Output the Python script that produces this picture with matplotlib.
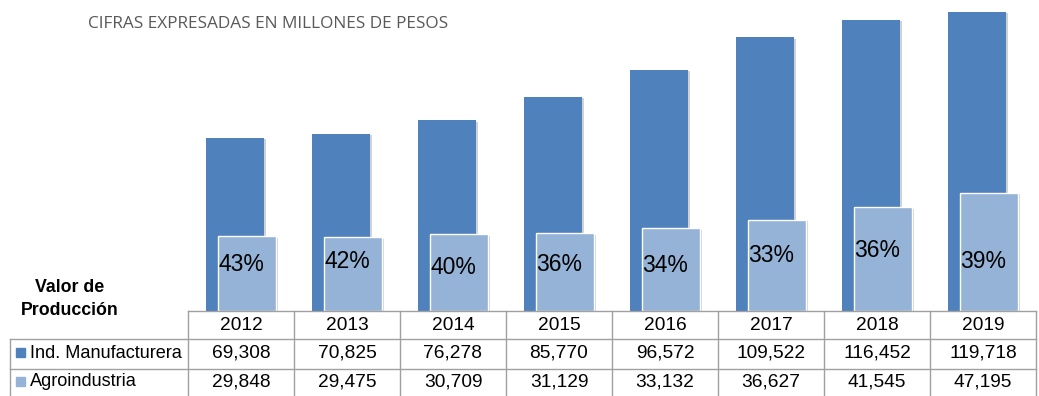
import matplotlib
matplotlib.use("Agg")
import matplotlib.pyplot as plt
import matplotlib.patheffects as pe

years = ['2012', '2013', '2014', '2015', '2016', '2017', '2018', '2019']
manufacturera = [69308, 70825, 76278, 85770, 96572, 109522, 116452, 119718]
agroindustria = [29848, 29475, 30709, 31129, 33132, 36627, 41545, 47195]
series_names = ['Ind. Manufacturera', 'Agroindustria']

# label heights (axes fraction) for the share labels
pct_y = [0.151, 0.158, 0.141, 0.148, 0.145, 0.177, 0.196, 0.158]

DARK = '#4F81BD'
LIGHT = '#95B3D7'
GRID = '#A0A0A0'

W, H = 1039, 396
fig = plt.figure(figsize=(W / 100, H / 100), dpi=100)

# table geometry in pixels
tab_left, col_w = 188, 106
row_top = [311, 339, 369, 397]
lab_left = 10

ax = fig.add_axes([tab_left / W, (H - row_top[0]) / H, len(years) * col_w / W, row_top[0] / H])
x = list(range(len(years)))
shadow = [pe.SimplePatchShadow(offset=(1.5, -1), shadow_rgbFace='#808080', alpha=0.35), pe.Normal()]
ax.bar([i - 0.057 for i in x], manufacturera, width=0.54, color=DARK,
       path_effects=shadow, zorder=2)
ax.bar([i + 0.057 for i in x], agroindustria, width=0.55, color=LIGHT,
       edgecolor='white', linewidth=1, path_effects=shadow, zorder=3)

for i in x:
    pct = round(agroindustria[i] / manufacturera[i] * 100)
    ax.text(i, pct_y[i], f'{pct}%', transform=ax.get_xaxis_transform(),
            ha='center', va='center', fontsize=16.5, family='Liberation Sans',
            color='black', zorder=4)

ax.set_xlim(-0.5, len(years) - 0.5)
ax.set_ylim(0, 124500)
ax.axis('off')

# overlay in pixel coordinates for the table and titles
ov = fig.add_axes([0, 0, 1, 1])
ov.set_xlim(0, W)
ov.set_ylim(H, 0)
ov.axis('off')

right = tab_left + len(years) * col_w
lw = 1.0
ov.plot([tab_left, right], [row_top[0], row_top[0]], color=GRID, lw=lw)
for y in row_top[1:]:
    ov.plot([lab_left, right], [y, y], color=GRID, lw=lw)
ov.plot([lab_left, lab_left], [row_top[1], row_top[3]], color=GRID, lw=lw)
for k in range(len(years) + 1):
    xk = tab_left + k * col_w
    ov.plot([xk, xk], [row_top[0], row_top[3]], color=GRID, lw=lw)

tfont = dict(family='Liberation Sans', fontsize=13.8, color='black')
for k, yr in enumerate(years):
    cx = tab_left + (k + 0.5) * col_w
    ov.text(cx, 325, yr, ha='center', va='center', **tfont)
    ov.text(cx, 353, f'{manufacturera[k]:,}', ha='center', va='center', **tfont)
    ov.text(cx, 382, f'{agroindustria[k]:,}', ha='center', va='center', **tfont)

for name, col, yc in zip(series_names, [DARK, LIGHT], [353, 382]):
    ov.add_patch(plt.Rectangle((16, yc - 5), 9, 9, color=col))
    ov.text(30, yc, name, ha='left', va='center', family='Liberation Sans',
            fontsize=13.1, color='black')

ov.text(70, 299, 'Valor de\nProducción', ha='center', va='center', family='Liberation Sans',
        fontsize=12.8, fontweight='bold', linespacing=1.45, color='black')

ov.text(88, 24, 'CIFRAS EXPRESADAS EN MILLONES DE PESOS', ha='left', va='center',
        family='Open Sans', fontsize=12.4, color='#595959')

fig.savefig('out.png', dpi=100)
